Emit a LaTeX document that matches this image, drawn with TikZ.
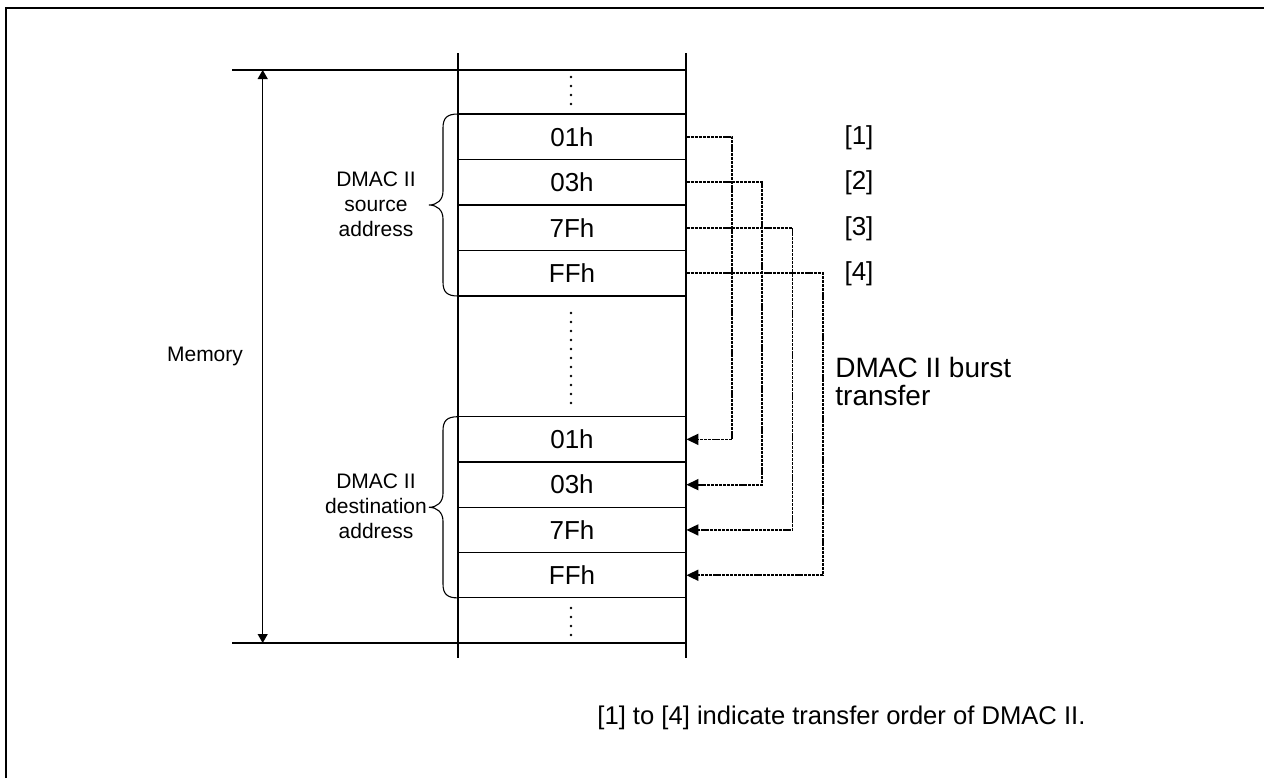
\documentclass[tikz,border=0pt]{standalone}
\usepackage{fontspec}
\setmainfont{Liberation Sans}
\usetikzlibrary{arrows.meta,calc}
\begin{document}
\begin{tikzpicture}[x=0.5pt,y=-0.5pt,
  cell/.style={minimum width=114pt,minimum height=22.7pt,inner sep=0pt,font=\fontsize{13}{15}\selectfont},
  gridline/.style={line width=0.55pt},
  xfer/.style={line width=0.85pt,dash pattern=on 1.6pt off 0.45pt,-{Triangle[length=6pt,width=5.5pt]}},
  lbl/.style={align=center,font=\fontsize{10.5}{12.5}\selectfont,inner sep=0pt},
  ordlbl/.style={font=\fontsize{13}{15}\selectfont,inner sep=0pt},
  brace/.style={line width=0.55pt}
]
\useasboundingbox (0,0) rectangle (1264,778);
% frame
\draw[line width=1pt] (6,778) -- (6,8) -- (1264,8);
% column verticals
\draw[gridline] (458,53) -- (458,658);
\draw[gridline] (686,53) -- (686,658);
% horizontal lines
\draw[gridline] (232,70) -- (686,70);
\foreach \y in {114,159.5,205,250.5,296}{\draw[gridline] (458,\y) -- (686,\y);}
\foreach \y in {416.7,462,507.3,552.6,597.9}{\draw[gridline] (458,\y) -- (686,\y);}
\draw[gridline] (232,643) -- (686,643);
% cells
\node[cell] (s1) at (572,136.75) {01h};
\node[cell] (s2) at (572,182.25) {03h};
\node[cell] (s3) at (572,227.75) {7Fh};
\node[cell] (s4) at (572,273.25) {FFh};
\node[cell] (d1) at (572,439.35) {01h};
\node[cell] (d2) at (572,484.65) {03h};
\node[cell] (d3) at (572,529.95) {7Fh};
\node[cell] (d4) at (572,575.25) {FFh};
% dots
\foreach \y in {77,86,95,104}{\fill (571,\y) circle (0.7pt);}
\foreach \i in {0,...,10}{\fill (571,313+9*\i) circle (0.7pt);}
\foreach \y in {608,617,626,635}{\fill (571,\y) circle (0.7pt);}
% transfers
\draw[xfer] (s1.east) -- ++(45.7,0) |- (d1.east);
\draw[xfer] (s2.east) -- ++(75.7,0) |- (d2.east);
\draw[xfer] (s3.east) -- ++(106,0) |- (d3.east);
\draw[xfer] (s4.east) -- ++(136.7,0) |- (d4.east);
% memory arrow
\coordinate (memtop) at (262.7,70);
\coordinate (membot) at (262.7,643);
\draw[line width=0.55pt,{Triangle[length=4.5pt,width=5pt]}-{Triangle[length=4.5pt,width=5pt]}] (memtop) -- (membot);
\node[lbl] (mem) at (205,356) {Memory};
% braces
\draw[brace] (458,114) .. controls (447,114) and (443,118) .. (443,128) -- (443,191)
  .. controls (443,200) and (437,205) .. (429,205)
  .. controls (437,205) and (443,210) .. (443,219) -- (443,282)
  .. controls (443,292) and (447,296) .. (458,296);
\draw[brace] (458,416.7) .. controls (447,416.7) and (443,420.7) .. (443,430.7) -- (443,493.3)
  .. controls (443,502.3) and (437,507.3) .. (429,507.3)
  .. controls (437,507.3) and (443,512.3) .. (443,521.3) -- (443,583.9)
  .. controls (443,593.9) and (447,597.9) .. (458,597.9);
\node[lbl] (srclbl) at (376,204) {DMAC II\\source\\address};
\node[lbl] (dstlbl) at (376,506) {DMAC II\\destination\\address};
% order labels
\node[ordlbl] (o1) at (859,138) {[1]};
\node[ordlbl] (o2) at (859,183) {[2]};
\node[ordlbl] (o3) at (859,229) {[3]};
\node[ordlbl] (o4) at (859,274) {[4]};
\node[anchor=west,align=left,inner sep=0pt,font=\fontsize{14}{14}\selectfont] (burst) at (835,381) {DMAC II burst\\transfer};
\node[anchor=west,inner sep=0pt,font=\fontsize{12.8}{15}\selectfont] (note) at (597,718) {[1] to [4] indicate transfer order of DMAC II.};
\end{tikzpicture}
\end{document}
